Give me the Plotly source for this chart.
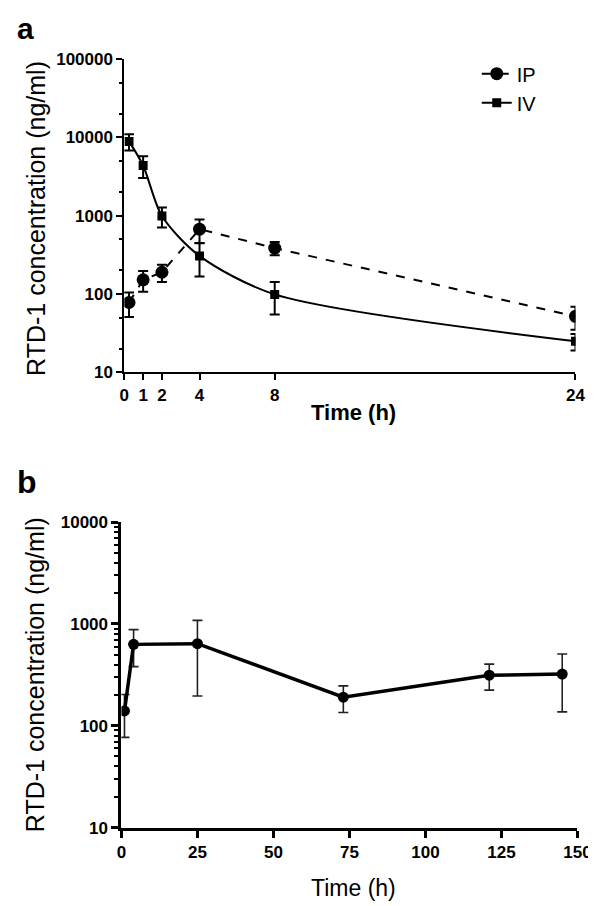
import plotly.graph_objects as go

# Panel a data
time_a = [0.25, 1, 2, 4, 8, 24]
ip_mean = [78, 152, 190, 673, 387, 52]
ip_err = [27, 45, 47, 225, 75, 17]
iv_mean = [8900, 4380, 990, 307, 99, 25]
iv_err = [2100, 1350, 280, 140, 44, 6]
xticks_a = [0, 1, 2, 4, 8, 24]
yticks_a = [10, 100, 1000, 10000, 100000]

# Panel b data
time_b = [1, 4, 25, 73, 121, 145]
b_mean = [140, 631, 641, 191, 314, 322]
b_err = [63, 250, 445, 56, 90, 185]
xticks_b = [0, 25, 50, 75, 100, 125, 150]
yticks_b = [10, 100, 1000, 10000]

FONT = "Liberation Sans, Arial, sans-serif"
W, H = 596, 906

fig = go.Figure()

fig.add_trace(go.Scatter(
    x=time_a, y=ip_mean, name="IP", mode="lines+markers",
    line=dict(color="black", width=2, dash="dash"),
    marker=dict(symbol="circle", size=13, color="black"),
    error_y=dict(type="data", array=ip_err, color="black", thickness=2, width=5),
    xaxis="x", yaxis="y"))
fig.add_trace(go.Scatter(
    x=time_a, y=iv_mean, name="IV", mode="lines+markers",
    line=dict(color="black", width=2, shape="spline", smoothing=0.8),
    marker=dict(symbol="square", size=9, color="black"),
    error_y=dict(type="data", array=iv_err, color="black", thickness=2, width=5),
    xaxis="x", yaxis="y"))
fig.add_trace(go.Scatter(
    x=time_b, y=b_mean, name="b", mode="lines+markers", showlegend=False,
    line=dict(color="black", width=3.5),
    marker=dict(symbol="circle", size=11, color="black"),
    error_y=dict(type="data", array=b_err, color="#222", thickness=1.6, width=5),
    xaxis="x2", yaxis="y2"))

axis_common = dict(showline=True, linecolor="black", showgrid=False, zeroline=False,
                   ticks="outside", tickcolor="black", mirror=False)
tickfont = dict(family=FONT, size=17, color="black", weight="bold")

fig.update_layout(
    width=W, height=H, margin=dict(l=0, r=0, t=0, b=0),
    paper_bgcolor="white", plot_bgcolor="white",
    showlegend=True,
    legend=dict(x=479 / W, y=1 - 38 / H, xanchor="left", yanchor="top",
                font=dict(family=FONT, size=20, color="black"),
                itemwidth=30, tracegroupgap=0, bgcolor="rgba(0,0,0,0)"),
    xaxis=dict(domain=[115 / W, 581 / W], range=[0, 24], tickvals=xticks_a,
               linewidth=2, tickwidth=2, ticklen=6, tickfont=tickfont,
               anchor="y", **axis_common),
    yaxis=dict(domain=[1 - 363 / H, 1 - 43 / H], type="log", range=[1, 5],
               tickvals=yticks_a, ticktext=[str(v) for v in yticks_a],
               linewidth=2, tickwidth=2, ticklen=6, tickfont=tickfont,
               minor=dict(ticks="outside", dtick="D2", ticklen=3, tickwidth=1.5, tickcolor="black"),
               anchor="x", **axis_common),
    xaxis2=dict(domain=[112 / W, 583 / W], range=[0, 150], tickvals=xticks_b,
                linewidth=3, tickwidth=3, ticklen=7, tickfont=tickfont,
                anchor="y2", **axis_common),
    yaxis2=dict(domain=[1 - 828 / H, 1 - 516 / H], type="log", range=[1, 4],
                tickvals=yticks_b, ticktext=[str(v) for v in yticks_b],
                linewidth=3, tickwidth=3, ticklen=7, tickfont=tickfont,
                minor=dict(ticks="outside", dtick="D1", ticklen=4, tickwidth=2, tickcolor="black"),
                anchor="x2", **axis_common),
)

ann = [
    dict(text="<b>a</b>", x=2 / W, y=1 - 12 / H, font=dict(size=30)),
    dict(text="<b>b</b>", x=2 / W, y=1 - 475 / H, font=dict(size=32)),
    dict(text="<b>Time (h)</b>", x=352 / W, y=1 - 404 / H, xanchor="center", font=dict(size=22)),
    dict(text="Time (h)", x=352 / W, y=1 - 890 / H, xanchor="center", font=dict(size=23)),
    dict(text="RTD-1 concentration (ng/ml)", x=23 / W, y=1 - 206 / H, xanchor="center",
         textangle=-90, font=dict(size=25)),
    dict(text="RTD-1 concentration (ng/ml)", x=23 / W, y=1 - 672 / H, xanchor="center",
         textangle=-90, font=dict(size=25)),
]
for a in ann:
    a.setdefault("xanchor", "left")
    a["font"] = dict(family=FONT, color="black", **a["font"])
    fig.add_annotation(xref="paper", yref="paper", yanchor="middle", showarrow=False, **a)

fig.write_html("out.html")
